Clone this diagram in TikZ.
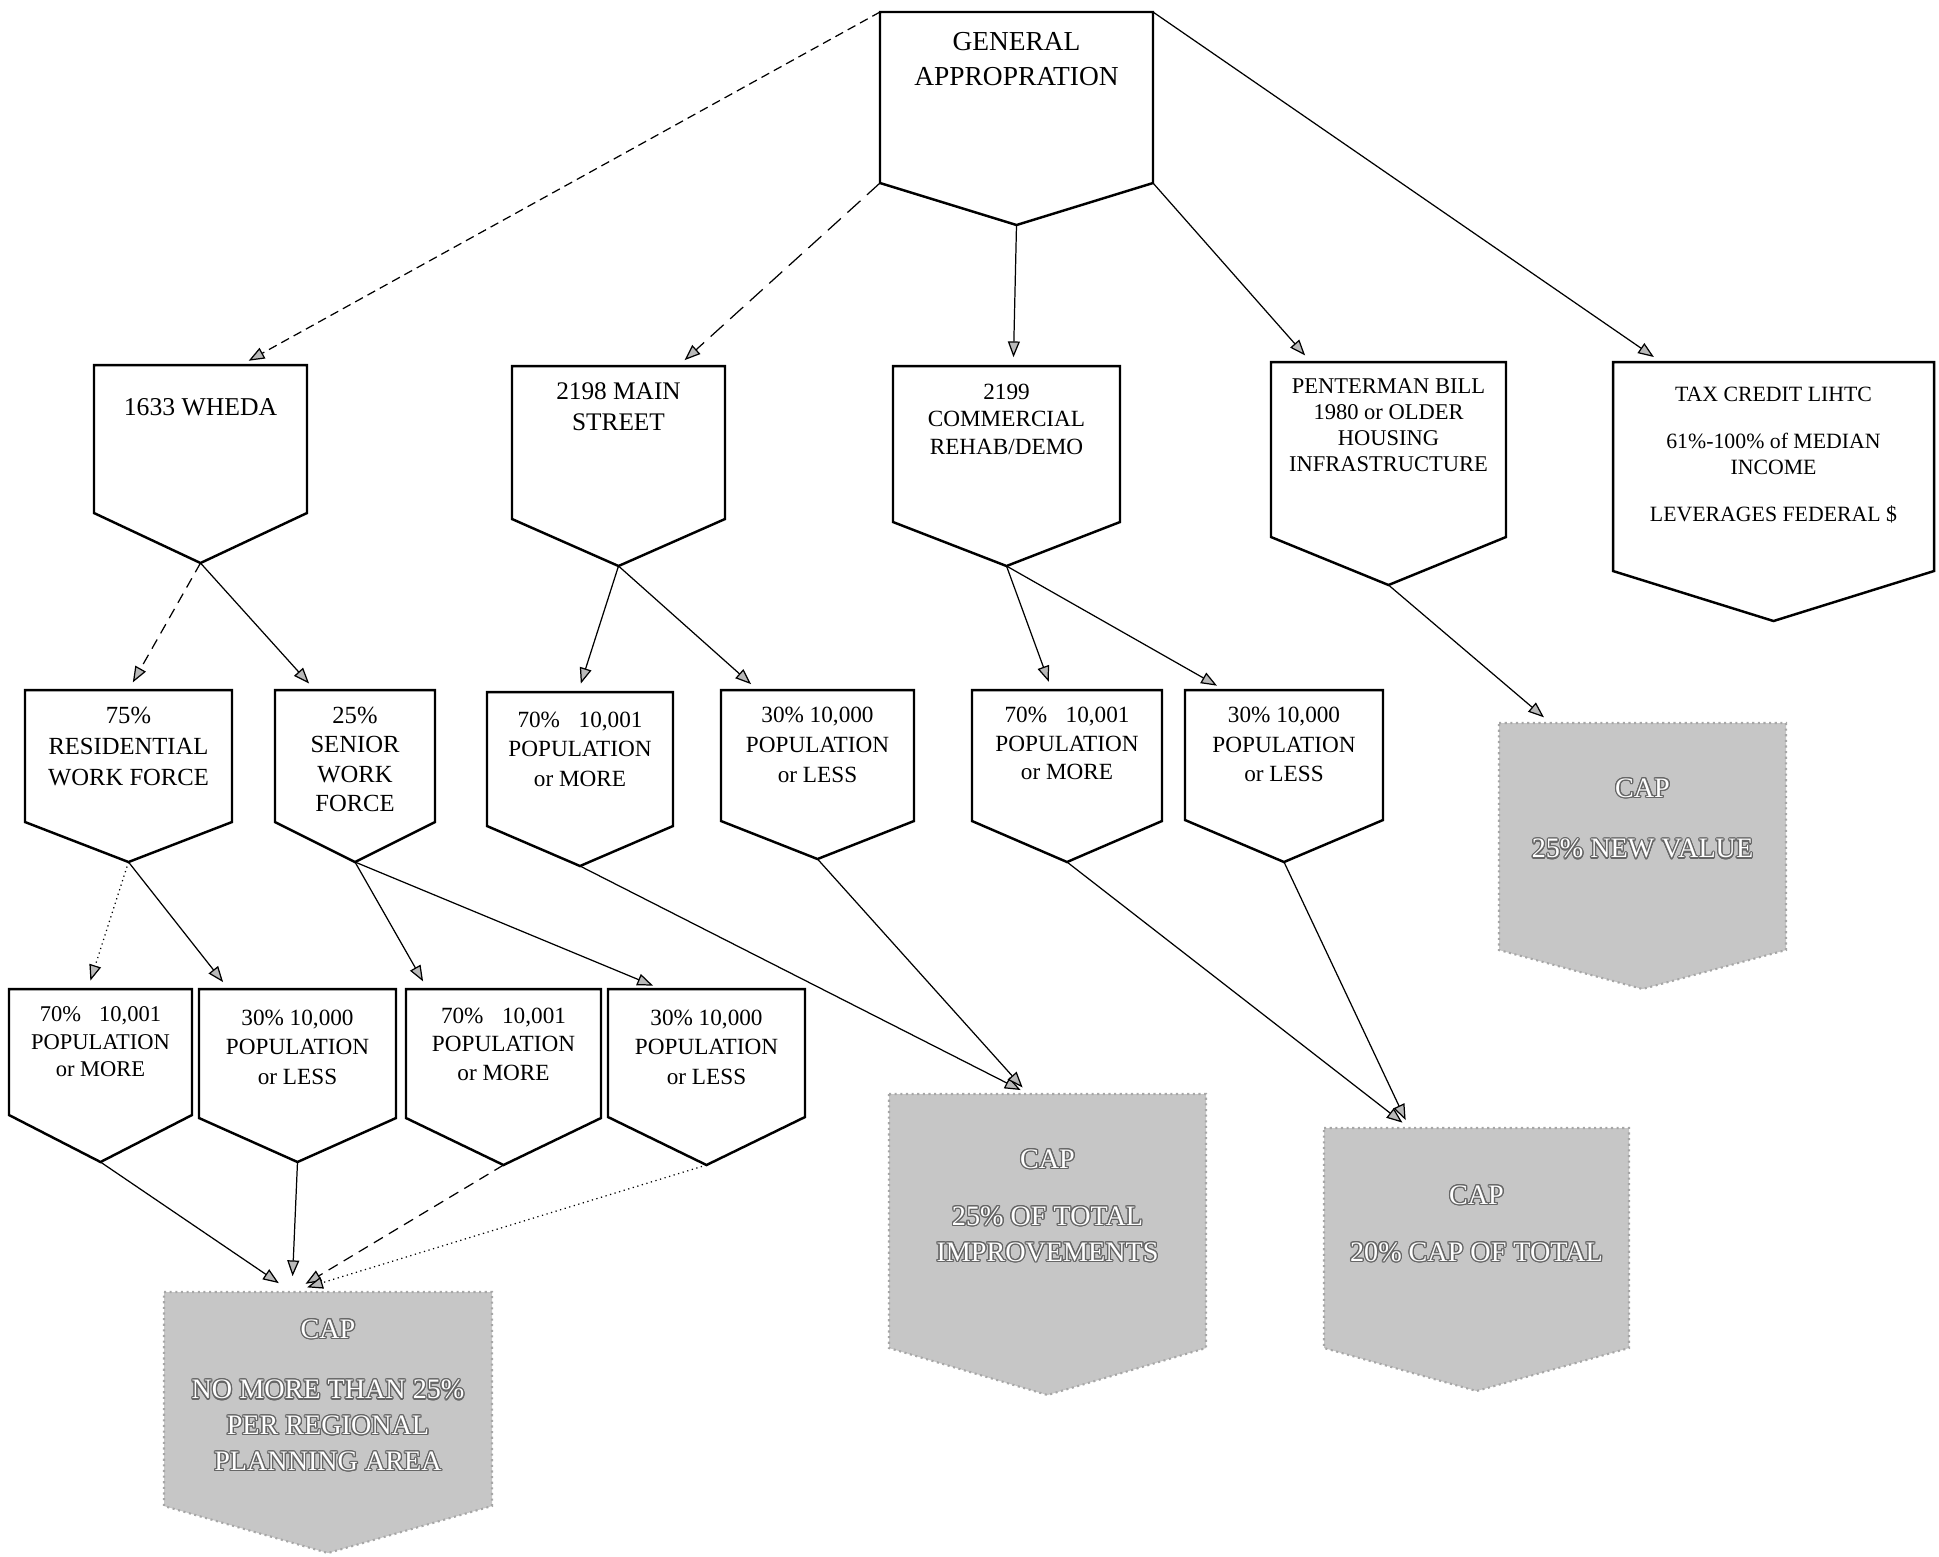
\documentclass[tikz,border=0pt]{standalone}
\usepackage{fontspec}
\setmainfont{Liberation Serif}
\usepackage[copies]{contour}
\contourlength{0.35pt}
\contournumber{16}
\usetikzlibrary{arrows.meta,calc}

\newcommand{\boxfont}[2]{\fontsize{#1}{#2}\selectfont}
\newcommand{\emb}[1]{\contour{black!60}{#1}}
% pointed box: [style]{name}{left}{right}{top}{side}{tip}{text options}{text}
\newcommand{\plate}[9][plate]{%
  \path[#1] (#3,#5) coordinate (#2-nw) -- (#4,#5) coordinate (#2-ne)
    -- (#4,#6) coordinate (#2-se) -- ({(#3+#4)/2},#7) coordinate (#2-tip)
    -- (#3,#6) coordinate (#2-sw) -- cycle;
  \node[#1text,#8] (#2) at ({(#3+#4)/2},#5) {#9};}

\begin{document}
\begin{tikzpicture}[x=0.01cm,y=-0.01cm,
		plate/.style={draw,line width=0.7pt,fill=white},
		capplate/.style={fill=gray!45,draw=gray!70,densely dotted,line width=0.6pt},
		platetext/.style={anchor=north,align=center,inner sep=0pt},
		capplatetext/.style={platetext,text=white,font=\boxfont{8}{10.2}},
		arr/.style={-{Triangle[length=4.5pt,width=3.4pt,fill=gray!55]},line width=0.35pt,shorten >=2.5pt}]
		
		\useasboundingbox (0,0) rectangle (1939,1556);
		
		\plate{ga}{880}{1153}{12}{183}{225}{yshift=-0.2cm,font=\boxfont{7.8}{9.8}}{GENERAL\\APPROPRATION}
		
		\plate{wheda}{94}{307}{365}{513}{563}{yshift=-0.33cm,font=\boxfont{7.3}{8.8}}{1633 WHEDA}
		\plate{main}{512}{725}{366}{519}{566}{yshift=-0.16cm,font=\boxfont{7.2}{8.8}}{2198 MAIN\\STREET}
		\plate{comm}{893}{1120}{366}{522}{566}{yshift=-0.17cm,font=\boxfont{6.6}{7.9}}{2199\\COMMERCIAL\\REHAB/DEMO}
		\plate{pent}{1271}{1506}{362}{537}{585}{yshift=-0.16cm,font=\boxfont{6.4}{7.4}}{PENTERMAN BILL\\1980 or OLDER\\HOUSING\\INFRASTRUCTURE}
		\plate{tax}{1613}{1934}{362}{571}{621}{yshift=-0.24cm,font=\boxfont{6.2}{7.4}}{TAX CREDIT LIHTC\\[6pt]61\%-100\% of MEDIAN\\INCOME\\[6pt]LEVERAGES FEDERAL \$}
		
		\plate{res}{25}{232}{690}{822}{862}{yshift=-0.16cm,font=\boxfont{7}{8.8}}{75\%\\RESIDENTIAL\\WORK FORCE}
		\plate{sen}{275}{435}{690}{822}{862}{yshift=-0.16cm,font=\boxfont{7}{8.4}}{25\%\\SENIOR\\WORK\\FORCE}
		\plate{mmore}{487}{673}{692}{826}{866}{yshift=-0.19cm,font=\boxfont{6.6}{8.4}}{70\%\hspace{0.8em}10,001\\POPULATION\\or MORE}
		\plate{mless}{721}{914}{690}{821}{859}{yshift=-0.16cm,font=\boxfont{6.6}{8.6}}{30\% 10,000\\POPULATION\\or LESS}
		\plate{cmore}{972}{1162}{690}{821}{862}{yshift=-0.16cm,font=\boxfont{6.6}{8.2}}{70\%\hspace{0.8em}10,001\\POPULATION\\or MORE}
		\plate{cless}{1185}{1383}{690}{820}{862}{yshift=-0.16cm,font=\boxfont{6.6}{8.5}}{30\% 10,000\\POPULATION\\or LESS}
		\plate[capplate]{capnv}{1499}{1786}{723}{950}{989}{yshift=-0.55cm}{\emb{CAP}\\[7pt]\emb{25\% NEW VALUE}}
		
		\plate{rmore}{9}{192}{989}{1115}{1162}{yshift=-0.17cm,font=\boxfont{6.4}{7.8}}{70\%\hspace{0.8em}10,001\\POPULATION\\or MORE}
		\plate{rless}{199}{396}{989}{1118}{1162}{yshift=-0.2cm,font=\boxfont{6.6}{8.4}}{30\% 10,000\\POPULATION\\or LESS}
		\plate{smore}{406}{601}{989}{1118}{1165}{yshift=-0.18cm,font=\boxfont{6.6}{8.1}}{70\%\hspace{0.8em}10,001\\POPULATION\\or MORE}
		\plate{sless}{608}{805}{989}{1117}{1165}{yshift=-0.2cm,font=\boxfont{6.6}{8.4}}{30\% 10,000\\POPULATION\\or LESS}
		\plate[capplate]{capti}{889}{1206}{1094}{1348}{1395}{yshift=-0.55cm}{\emb{CAP}\\[6pt]\emb{25\% OF TOTAL}\\\emb{IMPROVEMENTS}}
		\plate[capplate]{captot}{1324}{1629}{1128}{1348}{1391}{yshift=-0.57cm}{\emb{CAP}\\[6pt]\emb{20\% CAP OF TOTAL}}
		\plate[capplate]{capreg}{164}{492}{1292}{1506}{1553}{yshift=-0.27cm}{\emb{CAP}\\[7pt]\emb{NO MORE THAN 25\%}\\\emb{PER REGIONAL}\\\emb{PLANNING AREA}}
		
		% from the general appropriation
		\draw[arr,dash pattern=on 2.5pt off 1.5pt] (ga-nw) -- ($(wheda-nw)!0.69!(wheda-ne)$);
		\draw[arr,dash pattern=on 5pt off 2.5pt] (ga-sw) -- ($(main-nw)!0.78!(main-ne)$);
		\draw[arr] (ga-tip) -- ($(comm-nw)!0.53!(comm-ne)$);
		\draw[arr] (ga-se) -- ($(pent-nw)!0.17!(pent-ne)$);
		\draw[arr] (ga-ne) -- ($(tax-nw)!0.15!(tax-ne)$);
		
		\draw[arr,densely dashed] (wheda-tip) -- ($(res-nw)!0.5!(res-ne)$);
		\draw[arr] (wheda-tip) -- ($(sen-nw)!0.25!(sen-ne)$);
		\draw[arr] (main-tip) -- ($(mmore-nw)!0.49!(mmore-ne)$);
		\draw[arr] (main-tip) -- ($(mless-nw)!0.19!(mless-ne)$);
		\draw[arr] (comm-tip) -- ($(cmore-nw)!0.42!(cmore-ne)$);
		\draw[arr] (comm-tip) -- ($(cless-nw)!0.2!(cless-ne)$);
		\draw[arr] (pent-tip) -- ($(capnv-nw)!0.18!(capnv-ne)$);
		
		\draw[arr,densely dotted] (res-tip) -- ($(rmore-nw)!0.43!(rmore-ne)$);
		\draw[arr] (res-tip) -- ($(rless-nw)!0.15!(rless-ne)$);
		\draw[arr] (sen-tip) -- ($(smore-nw)!0.11!(smore-ne)$);
		\draw[arr] (sen-tip) -- ($(sless-nw)!0.27!(sless-ne)$);
		\draw[arr] (mmore-tip) -- ($(capti-nw)!0.44!(capti-ne)$);
		\draw[arr] (mless-tip) -- ($(capti-nw)!0.44!(capti-ne)$);
		\draw[arr] (cmore-tip) -- ($(captot-nw)!0.28!(captot-ne)$);
		\draw[arr] (cless-tip) -- ($(captot-nw)!0.28!(captot-ne)$);
		
		% into the regional cap
		\draw[arr,shorten >=4.5pt] (rmore-tip) -- ($(capreg-nw)!0.39!(capreg-ne)$);
		\draw[arr,shorten >=4.5pt] (rless-tip) -- ($(capreg-nw)!0.39!(capreg-ne)$);
		\draw[arr,shorten >=4.5pt,densely dashed] (smore-tip) -- ($(capreg-nw)!0.39!(capreg-ne)$);
		\draw[arr,shorten >=4.5pt,densely dotted] (sless-tip) -- ($(capreg-nw)!0.39!(capreg-ne)$);
		\end{tikzpicture}
\end{document}
